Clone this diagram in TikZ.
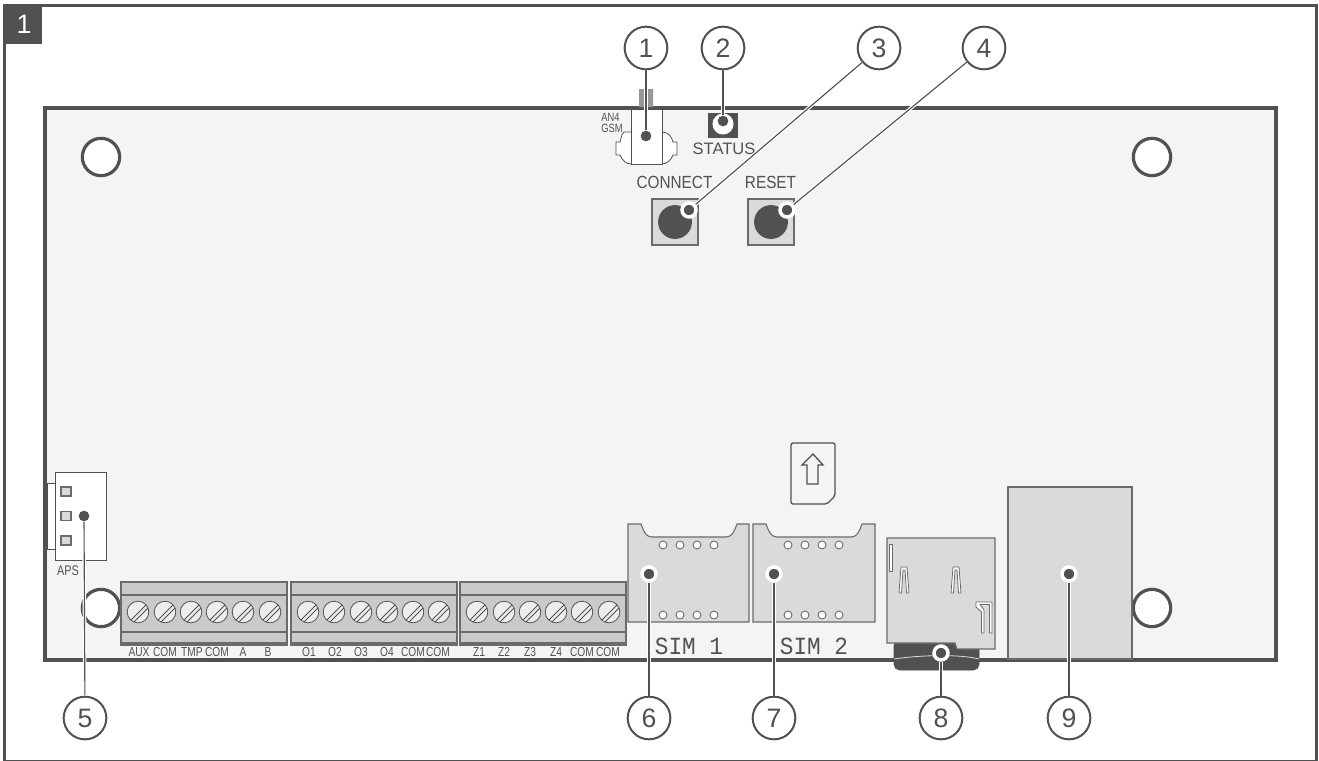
\documentclass[tikz,border=0pt]{standalone}
\usepackage{fontspec}
\setmainfont{Liberation Sans}
\newfontfamily\narf[FakeStretch=0.87]{Liberation Sans}
\newfontfamily\tinyf[FakeStretch=0.78]{Liberation Sans}
\newfontfamily\monof[FakeStretch=0.92]{Liberation Mono}
\definecolor{ink}{HTML}{505150}
\definecolor{boardc}{HTML}{F4F4F4}
\definecolor{partc}{HTML}{D9DAD9}
\definecolor{blockc}{HTML}{C9CAC9}
\definecolor{screwc}{HTML}{EDEDED}
\tikzset{
  x=0.75pt,y=-0.75pt,
  callout/.style={circle,draw=ink,line width=1.5pt,fill=white,minimum size=32pt,inner sep=0pt,text=ink,font=\fontsize{20pt}{20pt}\selectfont},
  dotplain/.style={circle,fill=ink,minimum size=8pt,inner sep=0pt},
  dothalo/.style={circle,fill=ink,draw=white,line width=2.6pt,minimum size=10.5pt,inner sep=0pt},
  leadw/.style={draw=white,line width=2.6pt},
  leadk/.style={draw=ink,line width=0.85pt},
  hole/.style={draw=ink,line width=2.4pt,fill=white},
  part/.style={draw=ink!85,line width=0.8pt,fill=partc},
  thinln/.style={draw=ink,line width=0.6pt},
  lab/.style={text=ink,inner sep=0pt},
  biglab/.style={lab,font=\narf\fontsize{13.2pt}{13.2pt}\selectfont},
  tinylab/.style={lab,font=\tinyf\fontsize{9.8pt}{9.8pt}\selectfont},
}
\newcommand{\screw}[2]{%
  \fill[screwc] (#1,#2) circle (8.1pt);
  \begin{scope}[shift={(#1,#2)}]
    \draw[thinln] (-7,8) -- (8,-7) (-4,10) -- (10,-4);
  \end{scope}
  \draw[thinln] (#1,#2) circle (8.1pt);
}
\newcommand{\block}[2]{%
  \fill[blockc] (#1,582) rectangle (#2,645);
  \draw[draw=ink!85,line width=0.8pt] (#1,582) rectangle (#2,645);
  \draw[draw=ink!85,line width=0.8pt] (#1,595) -- (#2,595) (#1,632) -- (#2,632) (#1,643) -- (#2,643);
}
\begin{document}
\begin{tikzpicture}
\useasboundingbox (0,0) rectangle (1319,760);
\fill[white] (0,0) rectangle (1319,760);
% frame
\begin{scope}
\clip (0,0) rectangle (1319,760);
\draw[ink,line width=2.25pt] (4.5,5.5) rectangle (1316.5,761);
\end{scope}
\fill[ink] (3,4) rectangle (42,44);
\node[text=white,font=\fontsize{20pt}{20pt}\selectfont,inner sep=0pt] (tab) at (24,24) {1};
% board
\draw[ink,line width=3pt,fill=boardc] (45,107.5) rectangle (1275.5,660);
% mounting holes
\draw[hole] (101,157) circle (14pt);
\draw[hole] (1152,157) circle (14pt);
\draw[hole] (101,608) circle (14pt);
\draw[hole] (1152,608) circle (14pt);
% antenna connector
\fill[ink!60] (639,89) rectangle (644,107) (648,89) rectangle (653,107);
\draw[thinln,fill=white] (631,132) -- (624,132) .. controls (621,134) and (621,140) .. (620,142) -- (616,142) -- (616,155) -- (620,155) .. controls (622,160) and (626,164) .. (631,164) -- (662,164) .. controls (667,164) and (671,160) .. (673,155) -- (677,155) -- (677,142) -- (673,142) .. controls (672,138) and (669,132) .. (662,132) -- cycle;
\draw[thinln,fill=white] (631,109) rectangle (662,164);
\node[lab,align=left,font=\tinyf\fontsize{9pt}{7.8pt}\selectfont] (an) at (612,123) {AN4\\GSM};
% status LED
\fill[ink] (708,113) rectangle (737.5,138);
\fill[white] (723,124) circle (7.9pt);
\node[biglab,font=\fontsize{12.4pt}{12.4pt}\selectfont] (status) at (724,149) {STATUS};
% buttons
\node[biglab] (connect) at (674.5,182) {CONNECT};
\node[biglab] (reset) at (770.5,182) {RESET};
\draw[part] (652,199) rectangle (698,245);
\fill[ink] (675,222) circle (12.7pt);
\draw[part] (748,199) rectangle (794,245);
\fill[ink] (771,222) circle (12.7pt);
% APS connector
\draw[thinln,fill=white] (47,483) rectangle (55,549);
\draw[thinln,fill=white] (55,472) rectangle (106,560);
\foreach \yy in {487,511.5,536} \draw[part] (61,\yy) rectangle (71,\yy+9);
\node[lab,font=\tinyf\fontsize{10.5pt}{10.5pt}\selectfont] (aps) at (68,571) {APS};
% terminals
\block{121}{287}
\block{291}{457}
\block{460}{626}
\foreach \xx in {138,165,191,217,243,270,308,334,361,387,413,439,477,504,530,556,582,609} {\screw{\xx}{612}}
\node[tinylab] (t1) at (139,652) {AUX};
\node[tinylab] (t2) at (165,652) {COM};
\node[tinylab] (t3) at (192,652) {TMP};
\node[tinylab] (t4) at (217,652) {COM};
\node[tinylab] (t5) at (243,652) {A};
\node[tinylab] (t6) at (268,652) {B};
\node[tinylab] (t7) at (309,652) {O1};
\node[tinylab] (t8) at (335,652) {O2};
\node[tinylab] (t9) at (361,652) {O3};
\node[tinylab] (t10) at (387,652) {O4};
\node[tinylab] (t11) at (413,652) {COM};
\node[tinylab] (t12) at (438,652) {COM};
\node[tinylab] (t13) at (479,652) {Z1};
\node[tinylab] (t14) at (504,652) {Z2};
\node[tinylab] (t15) at (530,652) {Z3};
\node[tinylab] (t16) at (556,652) {Z4};
\node[tinylab] (t17) at (582,652) {COM};
\node[tinylab] (t18) at (608,652) {COM};
% SIM holders
\draw[part] (628,524) -- (641,524) .. controls (644,532) and (646,537) .. (652,537) -- (726,537) .. controls (732,537) and (734,532) .. (737,524) -- (749,524) -- (749,622) -- (628,622) -- cycle;
\draw[part] (753,524) -- (766,524) .. controls (769,532) and (771,537) .. (777,537) -- (851,537) .. controls (857,537) and (859,532) .. (862,524) -- (875,524) -- (875,622) -- (753,622) -- cycle;
\foreach \xx in {663,680,697,714,788,805,822,839} {
  \draw[draw=ink!85,line width=0.65pt,fill=white] (\xx,545) circle (3pt);
  \draw[draw=ink!85,line width=0.65pt,fill=white] (\xx,615) circle (3pt);
}
\node[lab,font=\monof\fontsize{18.5pt}{18.5pt}\selectfont] (sim1) at (689,646) {SIM 1};
\node[lab,font=\monof\fontsize{18.5pt}{18.5pt}\selectfont] (sim2) at (814,646) {SIM 2};
% SIM icon
\draw[ink,line width=1pt,rounded corners=1.5pt] (791,443) -- (835,443) -- (835,496) -- (827,504) -- (791,504) -- cycle;
\draw[ink,line width=1pt] (813,454) -- (823,465) -- (818,465) -- (818,484) -- (807,484) -- (807,465) -- (802,465) -- cycle;
% SD card
\draw[fill=ink,draw=ink,rounded corners=4pt] (894,640) -- (894,670) -- (979,670) -- (979,640) -- cycle;
\draw[white!80!ink,line width=0.6pt] (894,659) .. controls (920,655) and (960,654) .. (979,659);
\draw[part] (887,538) -- (995,538) -- (995,649) -- (957,649) -- (955,643) -- (887,643) -- cycle;
\draw[thinln,draw=ink!85,fill=white] (889,544) rectangle (892,571);
\draw[thinln,draw=ink!85,fill=white] (899,593) -- (901,567) -- (907,567) -- (909,593) -- (906.5,593) -- (905,570) -- (903,570) -- (901.5,593) -- cycle;
\draw[thinln,draw=ink!85,fill=white] (951,593) -- (953,567) -- (959,567) -- (961,593) -- (958.5,593) -- (957,570) -- (955,570) -- (953.5,593) -- cycle;
\draw[thinln,draw=ink!85,fill=white] (976,602) -- (992,602) -- (992,633) -- (989.5,633) -- (989.5,604.5) -- (980,604.5) -- (984,610) -- (984,633) -- (981.5,633) -- (981.5,612) -- (976,607) -- cycle;
% network socket
\draw[part,fill=partc] (1008,487) rectangle (1132,659);
% callouts
\node[callout] (c1) at (646,48) {1};
\node[callout] (c2) at (723,48) {2};
\node[callout] (c3) at (879,48) {3};
\node[callout] (c4) at (984,48) {4};
\node[callout] (c5) at (85,718) {5};
\node[callout] (c6) at (649,718) {6};
\node[callout] (c7) at (774,718) {7};
\node[callout] (c8) at (941,718) {8};
\node[callout] (c9) at (1069,718) {9};
\node[dotplain] (d1) at (646,136) {};
\node[dotplain] (d2) at (723,121) {};
\node[dothalo] (d3) at (689,210) {};
\node[dothalo] (d4) at (787,210) {};
\node[dotplain] (d5) at (84,516) {};
\node[dothalo] (d6) at (649,574) {};
\node[dothalo] (d7) at (774,574) {};
\node[dothalo] (d8) at (941,653) {};
\node[dothalo] (d9) at (1069,574) {};
\foreach \n in {1,...,9} {\draw[leadw] (c\n) -- (d\n);}
\foreach \n in {1,...,9} {\draw[leadk] (c\n) -- (d\n);}
\end{tikzpicture}
\end{document}
